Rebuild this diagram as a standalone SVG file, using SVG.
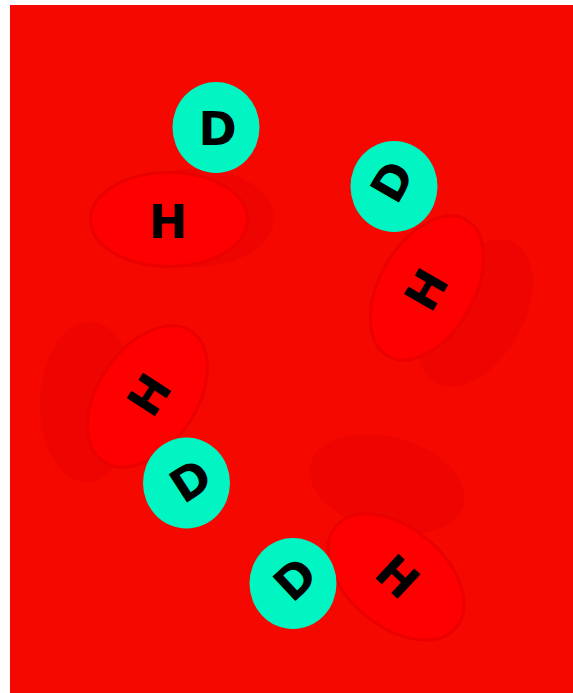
<svg xmlns="http://www.w3.org/2000/svg" width="573" height="693" viewBox="0 0 573 693">
  <style>
    .bg { fill: #f40800; }
    .shade { fill: #ee0400; }
    .h-shape { fill: #ff0000; stroke: #eb0000; stroke-width: 3; }
    .d-shape { fill: #00f5c3; }
    .lbl { font-family: "DejaVu Sans", "Liberation Sans", sans-serif; font-weight: bold; font-size: 46px; fill: #000000; text-anchor: middle; }
  </style>

  <rect class="bg" x="10" y="5" width="563" height="688"/>

  <g id="connectors"/>

  <!-- pair 1: upright -->
  <g id="node-h1">
    <ellipse class="shade" cx="194" cy="218" rx="80" ry="49"/>
    <ellipse class="h-shape" cx="169" cy="219.5" rx="78.5" ry="47"/>
    <text class="lbl" x="168" y="237.5">H</text>
  </g>
  <g id="node-d1">
    <ellipse class="d-shape" cx="216" cy="127.5" rx="43.5" ry="45.5"/>
    <text class="lbl" x="217.5" y="145">D</text>
  </g>

  <!-- pair 2: turned -60 degrees -->
  <g id="node-h2">
    <ellipse class="shade" cx="0" cy="0" rx="80" ry="48" transform="translate(475 313) rotate(-60)"/>
    <ellipse class="h-shape" cx="0" cy="0" rx="78.5" ry="47" transform="translate(427 288) rotate(-60)"/>
    <g transform="translate(426 289.5) rotate(-60)"><text class="lbl" x="0" y="16.5">H</text></g>
  </g>
  <g id="node-d2">
    <ellipse class="d-shape" cx="394" cy="186.5" rx="43.5" ry="45.5"/>
    <g transform="translate(392 181.5) rotate(-60)"><text class="lbl" x="0" y="16.5">D</text></g>
  </g>

  <!-- pair 3 -->
  <g id="node-h3">
    <ellipse class="shade" cx="0" cy="0" rx="80" ry="48" transform="translate(88 402) rotate(-88)"/>
    <ellipse class="h-shape" cx="0" cy="0" rx="78.5" ry="49" transform="translate(147.5 396.5) rotate(-56)"/>
    <g transform="translate(149 394.5) rotate(-57)"><text class="lbl" x="0" y="16.5">H</text></g>
  </g>
  <g id="node-d3">
    <ellipse class="d-shape" cx="186.5" cy="483" rx="43.5" ry="45.5"/>
    <g transform="translate(190.5 480.5) rotate(-33)"><text class="lbl" x="0" y="16.5">D</text></g>
  </g>

  <!-- pair 4 -->
  <g id="node-h4">
    <ellipse class="shade" cx="0" cy="0" rx="79" ry="47" transform="translate(387 484) rotate(15)"/>
    <ellipse class="h-shape" cx="0" cy="0" rx="78.5" ry="49" transform="translate(396 577) rotate(40)"/>
    <g transform="translate(397.5 576.5) rotate(43)"><text class="lbl" x="0" y="16.5">H</text></g>
  </g>
  <g id="node-d4">
    <ellipse class="d-shape" cx="293" cy="583.5" rx="43.5" ry="45.5"/>
    <g transform="translate(295 579) rotate(-43)"><text class="lbl" x="0" y="16.5">D</text></g>
  </g>
</svg>
